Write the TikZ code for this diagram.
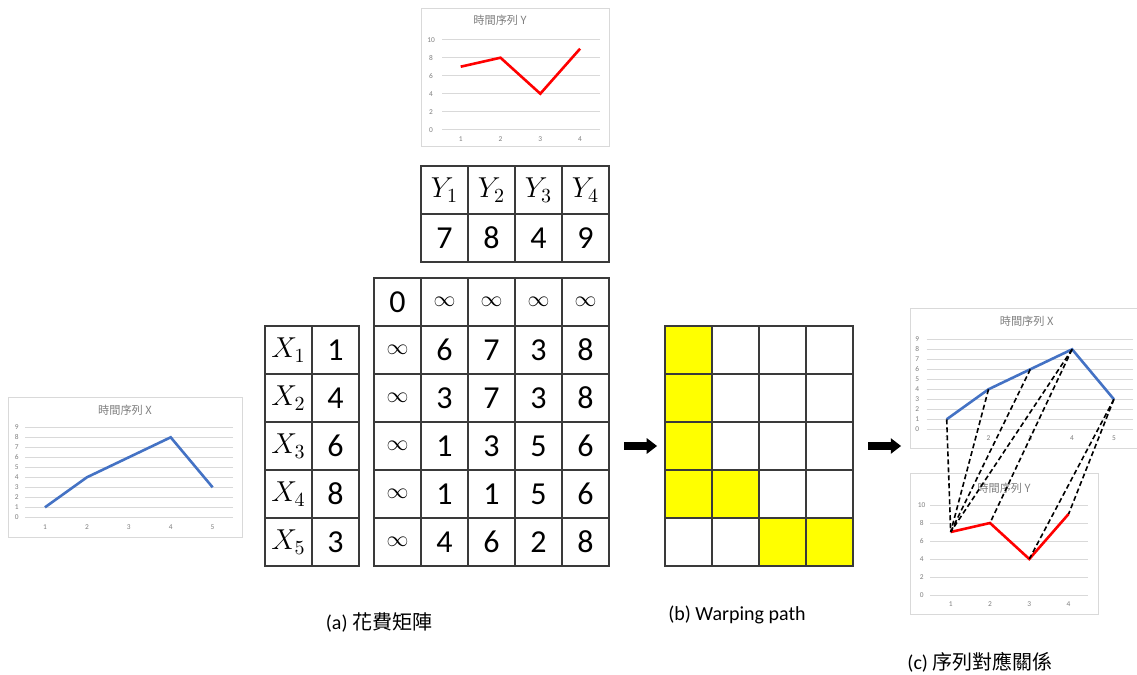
\documentclass[tikz,border=0pt]{standalone}
\usepackage{fontspec}
\setmainfont{Carlito}
\newfontfamily\cjk{Noto Sans CJK TC}
\usepackage{tikz}
\usetikzlibrary{shapes.arrows}
\definecolor{gridc}{HTML}{D9D9D9}
\definecolor{labc}{HTML}{7F7F7F}
\definecolor{xline}{HTML}{4472C4}
\definecolor{yline}{HTML}{FF0000}
\definecolor{pathc}{HTML}{FFFF00}
\definecolor{cellc}{HTML}{3A3A3A}
\newcommand{\infc}{{\fontsize{11}{12}\selectfont$\infty$}}
\newcommand{\sym}[2]{{\fontsize{14}{16}\selectfont$#1_{#2}$}}
\tikzset{
  cell/.style={draw=cellc,line width=0.6pt,minimum width=23.5pt,minimum height=24pt,inner sep=0pt,font=\fontsize{16}{18}\selectfont},
  frm/.style={draw=gridc,line width=0.5pt},
  gl/.style={gridc,line width=0.5pt},
  tk/.style={labc,inner sep=0pt,font=\fontsize{3.7}{4}\selectfont},
  ttl/.style={labc,inner sep=0pt,font=\cjk\fontsize{5.6}{6}\selectfont},
  dl/.style={black,line width=0.8pt,dash pattern=on 2.5pt off 1.5pt},
  blk/.style={single arrow,fill=black,inner xsep=0pt,inner ysep=1.75pt,minimum height=16.5pt,single arrow head extend=2pt,single arrow tip angle=75},
  capt/.style={inner sep=0pt,font=\fontsize{10}{12}\selectfont}
}
\begin{document}
\begin{tikzpicture}[x=0.5pt,y=-0.5pt]
\useasboundingbox[fill=white] (0,0) rectangle (1137,675);
% chart Y (top)
\draw[frm] (421,8) rectangle (609,146);
\node[ttl] (ty) at (500,20) {時間序列 Y};
\foreach \v in {0,2,...,10} {
  \draw[gl] (442,{129.7-9*\v}) -- (600,{129.7-9*\v});
  \node[tk] (tyv\v) at (431,{129.7-9*\v}) {\v};
}
\foreach \i in {1,...,4}
  \node[tk] (tyx\i) at ({460.7+39.8*(\i-1)},139) {\i};
\foreach \v [count=\i] in {7,8,4,9}
  \coordinate (ty\i) at ({460.7+39.8*(\i-1)},{129.7-9*\v});
\draw[yline,line width=1.3pt] (ty1) -- (ty2) -- (ty3) -- (ty4);
% chart X (left)
\draw[frm] (8,397) rectangle (242,537);
\node[ttl] (lx) at (125,410) {時間序列 X};
\foreach \v in {0,...,9} {
  \draw[gl] (25,{517.3-10*\v}) -- (233,{517.3-10*\v});
  \node[tk] (lxv\v) at (16.7,{517.3-10*\v}) {\v};
}
\foreach \i in {1,...,5}
  \node[tk] (lxx\i) at ({45+41.9*(\i-1)},527) {\i};
\foreach \v [count=\i] in {1,4,6,8,3}
  \coordinate (lx\i) at ({45+41.9*(\i-1)},{517.3-10*\v});
\draw[xline,line width=1.3pt] (lx1) -- (lx2) -- (lx3) -- (lx4) -- (lx5);
% series Y table
\foreach \v [count=\j] in {7,8,4,9} {
  \node[cell] (yh\j) at ({444.5+47*(\j-1)},190) {\sym{Y}{\j}};
  \node[cell] (yv\j) at ({444.5+47*(\j-1)},238) {\v};
}
% series X table
\foreach \v [count=\k] in {1,4,6,8,3} {
  \node[cell] (xn\k) at (288.5,{350+48*(\k-1)}) {\sym{X}{\k}};
  \node[cell] (xv\k) at (335.5,{350+48*(\k-1)}) {\v};
}
% cost matrix
\foreach \row [count=\r from 0] in {{0,\infc,\infc,\infc,\infc},{\infc,6,7,3,8},{\infc,3,7,3,8},{\infc,1,3,5,6},{\infc,1,1,5,6},{\infc,4,6,2,8}}
  \foreach \val [count=\c from 0] in \row
    \node[cell] (m-\r-\c) at ({397.5+47*\c},{302+48*\r}) {\val};
% warping path
\foreach \r/\c in {1/1,2/1,3/1,4/1,4/2,5/3,5/4}
  \fill[pathc] ({665+47*(\c-1)},{326+48*(\r-1)}) rectangle ++(47,48);
\foreach \r in {1,...,5}
  \foreach \c in {1,...,4}
    \node[cell] (w-\r-\c) at ({688.5+47*(\c-1)},{350+48*(\r-1)}) {};
\node[blk] (arA) at (638,446) {};
\node[blk] (arB) at (882,446) {};
% chart X (right)
\draw[frm] (910,308) -- (1140,308) (910,308) -- (910,448) -- (1140,448);
\node[ttl] (rxt) at (1026.7,321.7) {時間序列 X};
\foreach \v in {0,...,9} {
  \draw[gl] (926.7,{429.3-10*\v}) -- (1133,{429.3-10*\v});
  \node[tk] (rxv\v) at (917.3,{429.3-10*\v}) {\v};
}
\foreach \i in {1,...,5}
  \node[tk] (rxx\i) at ({946.7+41.8*(\i-1)},438.3) {\i};
\foreach \v [count=\i] in {1,4,6,8,3}
  \coordinate (rx\i) at ({946.7+41.8*(\i-1)},{429.3-10*\v});
\draw[xline,line width=1.3pt] (rx1) -- (rx2) -- (rx3) -- (rx4) -- (rx5);
% chart Y (right)
\draw[frm] (910,473) rectangle (1098,614);
\node[ttl] (ryt) at (1004,488) {時間序列 Y};
\foreach \v in {0,2,...,10} {
  \draw[gl] (930,{595-9*\v}) -- (1088,{595-9*\v});
  \node[tk] (ryv\v) at (921.7,{595-9*\v}) {\v};
}
\foreach \i in {1,...,4}
  \node[tk] (ryx\i) at ({950.7+39.3*(\i-1)},604.3) {\i};
\foreach \v [count=\i] in {7,8,4,9}
  \coordinate (ry\i) at ({950.7+39.3*(\i-1)},{595-9*\v});
\draw[yline,line width=1.3pt] (ry1) -- (ry2) -- (ry3) -- (ry4);
% alignment
\foreach \a/\b in {1/1,2/1,3/1,4/1,4/2,5/3,5/4}
  \draw[dl] (rx\a) -- (ry\b);
% captions
\node[capt] (capa) at (379,622) {(a) {\cjk 花費矩陣}};
\node[capt] (capb) at (737,615) {(b) Warping path};
\node[capt] (capc) at (980,662) {(c) {\cjk 序列對應關係}};
\end{tikzpicture}
\end{document}
